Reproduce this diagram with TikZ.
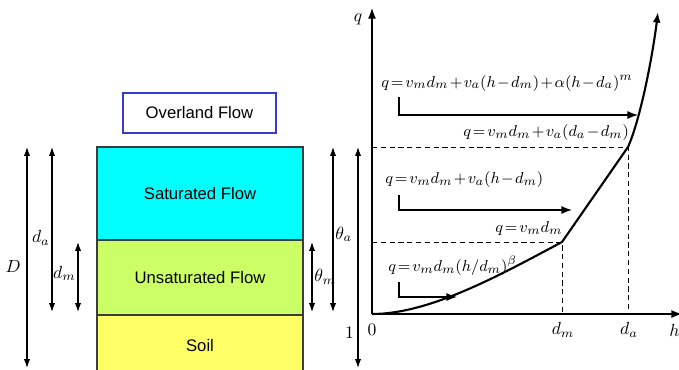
\documentclass[tikz,border=0pt]{standalone}
\usepackage{fontspec}
\setsansfont{Liberation Sans}
\usepackage{tikz}
\usetikzlibrary{arrows.meta, positioning, calc}
\definecolor{satcyan}{HTML}{00FFFF}
\definecolor{unsatgreen}{HTML}{CCFF66}
\definecolor{soilyellow}{HTML}{FFFF66}
\definecolor{layeredge}{HTML}{3C3C3C}
\definecolor{overlandblue}{HTML}{3A3ACC}
\newcommand{\tightmath}{\thickmuskip=2mu\relax\medmuskip=1.5mu\relax}
\tikzstyle{layer} = [rectangle, draw=layeredge, line width=0.6pt, minimum width=4.12cm, outer sep=0pt, inner sep=0pt, text centered, font=\sffamily\fontsize{9.5}{11}\selectfont]
\tikzstyle{overland} = [rectangle, draw=overlandblue, line width=0.7pt, minimum width=3.06cm, minimum height=0.8cm, text centered, font=\sffamily\fontsize{9.5}{11}\selectfont]
\tikzstyle{dimarrow} = [line width=0.6pt, {Latex[length=5pt,width=3.5pt]}-{Latex[length=5pt,width=3.5pt]}]
\tikzstyle{axis} = [line width=0.7pt, -{Latex[length=6pt,width=4.5pt]}]
\tikzstyle{flowarrow} = [line width=0.7pt, -{Latex[length=6pt,width=4.5pt]}]
\tikzstyle{ratingcurve} = [line width=1.2pt, -{Latex[length=6pt,width=4.5pt]}]
\tikzstyle{guide} = [line width=0.5pt, dash pattern=on 3pt off 2pt]
\tikzstyle{formula} = [anchor=west, inner sep=0pt, font=\fontsize{9.4}{11}\selectfont\tightmath]

\begin{document}
\begin{tikzpicture}[x=0.02cm, y=-0.02cm, every node/.style={font=\fontsize{10}{12}\selectfont}]
    \useasboundingbox (0,0) rectangle (679,369);
    % soil column
    \node[overland] (over) at (199.5,113) {Overland Flow};
    \node[layer, fill=satcyan, minimum height=1.86cm] (sat) at (200,193.5) {Saturated Flow};
    \node[layer, fill=unsatgreen, minimum height=1.5cm, below=0pt of sat] (unsat) {Unsaturated Flow};
    \node[layer, fill=soilyellow, minimum height=1.24cm, below=0pt of unsat] (soil) {Soil};

    % depths
    \coordinate (Dtop) at (27,147);   \coordinate (Dbot) at (27,368);
    \coordinate (datop) at (52,147);  \coordinate (dabot) at (52,312);
    \coordinate (dmtop) at (78,242);  \coordinate (dmbot) at (78,312);
    \draw[dimarrow] (Dtop) -- node[left, pos=0.54] {$D$} (Dbot);
    \draw[dimarrow] (datop) -- node[left, pos=0.55, inner sep=1pt] {$d_a$} (dabot);
    \draw[dimarrow] (dmtop) -- node[left, pos=0.45, inner sep=1pt] {$d_m$} (dmbot);

    % moisture
    \coordinate (tmtop) at (312,242); \coordinate (tmbot) at (312,312);
    \coordinate (tatop) at (333,147); \coordinate (tabot) at (333,312);
    \coordinate (onetop) at (358,147); \coordinate (onebot) at (358,368);
    \draw[dimarrow] (tmtop) -- node[right, pos=0.5, inner sep=1pt] {$\theta_m$} (tmbot);
    \draw[dimarrow] (tatop) -- node[right, pos=0.53, inner sep=1pt] {$\theta_a$} (tabot);
    \draw[dimarrow] (onetop) -- node[left, pos=0.84, inner sep=2pt] {$1$} (onebot);

    % axes
    \coordinate (O) at (372,314);
    \coordinate (qend) at (372,8);
    \coordinate (hend) at (682,314);
    \coordinate (Pm) at (562,242);
    \coordinate (Pa) at (628,147);
    \coordinate (ctop) at (658,12);
    \draw[axis] (O) -- (qend);
    \draw[axis] (O) -- (hend);
    \node (qlab) at (358,19) {$q$};
    \node[anchor=west, inner sep=0pt] (hlab) at (669,330) {$h$};
    \node (zero) at (372,330) {$0$};
    \node (dmlab) at (563,330) {$d_m$};
    \node (dalab) at (629,330) {$d_a$};

    \draw[guide] (O |- Pm) -- (Pm) -- (Pm |- O);
    \draw[guide] (O |- Pa) -- (Pa) -- (Pa |- O);
    \draw[ratingcurve] (O) .. controls (430,314) and (500,275) .. (Pm) -- (Pa)
        .. controls (640,120) and (652,60) .. (ctop);

    % flow laws
    \node[formula] (f1) at (381,83) {$q = v_m d_m + v_a(h-d_m) + \alpha(h-d_a)^m$};
    \node[formula] (f2) at (463,133) {$q = v_m d_m + v_a(d_a-d_m)$};
    \node[formula] (f3) at (385,180) {$q = v_m d_m + v_a(h-d_m)$};
    \node[formula] (f4) at (495,229) {$q = v_m d_m$};
    \node[formula] (f5) at (388,266) {$q = v_m d_m (h/d_m)^\beta$};

    \coordinate (a1s) at (399,97);  \coordinate (a1e) at (638,115);
    \coordinate (a3s) at (399,195); \coordinate (a3e) at (572,210);
    \coordinate (a5s) at (399,282); \coordinate (a5e) at (457,297);
    \draw[flowarrow] (a1s) |- (a1e);
    \draw[flowarrow] (a3s) |- (a3e);
    \draw[flowarrow] (a5s) |- (a5e);
\end{tikzpicture}
\end{document}
